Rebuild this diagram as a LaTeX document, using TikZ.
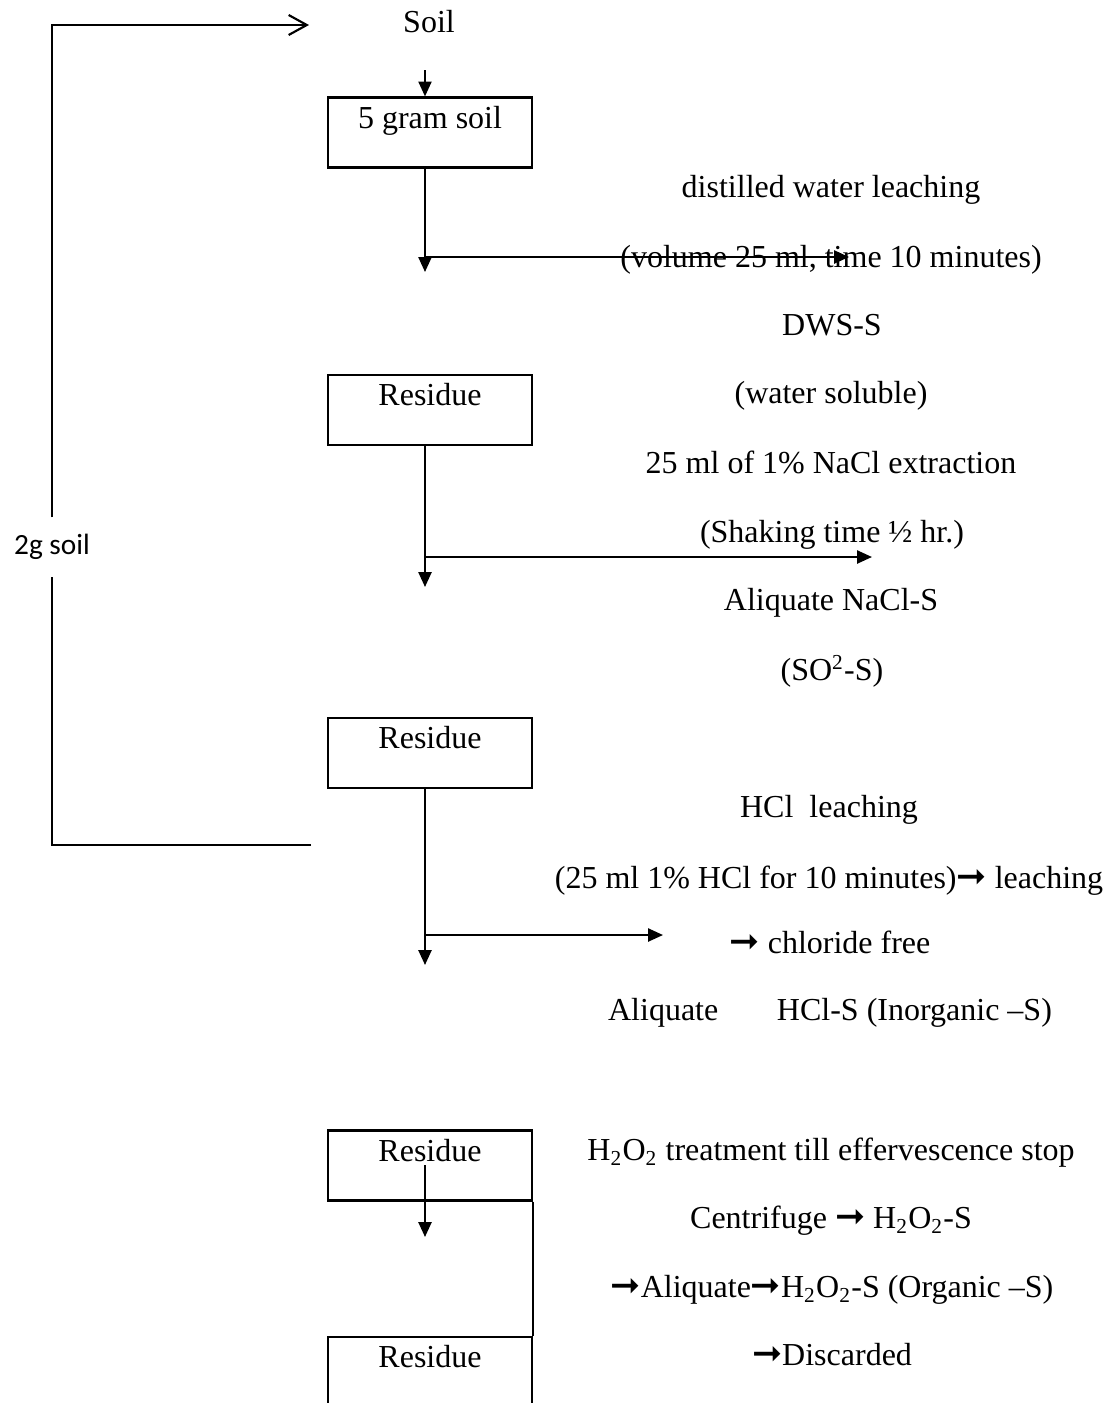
\documentclass[tikz,border=0pt]{standalone}
\usepackage{fontspec}
\setmainfont{Liberation Serif}
\newfontfamily\calibrifont{Carlito}
\newfontfamily\arrowfont{DejaVu Sans}
\usetikzlibrary{arrows.meta}

\newcommand{\steparrow}{{\arrowfont\fontsize{13.5}{14}\selectfont ➞}}

\tikzset{
  stagebox/.style={draw, line width=0.8pt, minimum width=76.5pt, inner sep=0pt,
    text height=11.5pt, text depth=14.75pt},
  steptext/.style={inner sep=0pt, text height=8pt, text depth=0pt},
  flow/.style={line width=0.8pt, -{Triangle[length=5.6pt,width=4.9pt]}},
  loopline/.style={line width=0.8pt},
}

\begin{document}
\begin{tikzpicture}[x=0.375pt, y=-0.375pt, font=\fontsize{12}{14.4}\selectfont]
\useasboundingbox (0,0) rectangle (1104,1403);
\clip (0,0) rectangle (1104,1403);

% left column: sample and residues
\node [steptext] (soil) at (429,22) {Soil};
\node [stagebox] (box1) at (430,132.5) {5 gram soil};
\node [stagebox] (box2) at (430,410) {Residue};
\node [stagebox] (box3) at (430,753) {Residue};
\node [stagebox] (box4) at (430,1165.5) {Residue};
\node [stagebox] (box5) at (430,1372) {Residue};
\node [inner sep=0pt, minimum height=21.75pt, font=\calibrifont\fontsize{11}{13}\selectfont] (twog) at (52,547) {2g soil};

% right column: treatments
\node [steptext] (dwl) at (831,187) {distilled water leaching};
\node [steptext] (vol) at (831,257) {(volume 25 ml, time 10 minutes)};
\node [steptext] (dws) at (832,325) {DWS-S};
\node [steptext] (wsol) at (831,393) {(water soluble)};
\node [steptext] (nacl) at (831,463) {25 ml of 1\%  NaCl extraction};
\node [steptext] (shake) at (832,532) {(Shaking time ½ hr.)};
\node [steptext] (aliq1) at (831,600) {Aliquate NaCl-S};
\node [steptext] (sulf) at (832,670) {(SO\textsuperscript{2}-S)};
\node [steptext] (hcl) at (829,807) {HCl\ \ leaching};
\node [steptext] (hcldo) at (829,878) {(25 ml 1\% HCl for 10 minutes)\steparrow\ leaching};
\node [steptext] (clfree) at (830,943) {\steparrow\ chloride free};
\node [steptext] (aliq2) at (830,1010) {Aliquate\hspace{22pt}HCl-S (Inorganic –S)};
\node [steptext] (perox) at (831,1150) {H\textsubscript{2}O\textsubscript{2} treatment till effervescence stop};
\node [steptext] (cent) at (831,1218) {Centrifuge \steparrow\ H\textsubscript{2}O\textsubscript{2}-S};
\node [steptext] (aliq3) at (832,1287) {\steparrow Aliquate\steparrow H\textsubscript{2}O\textsubscript{2}-S (Organic –S)};
\node [steptext] (disc) at (832,1355) {\steparrow Discarded};

% arrow ends
\coordinate (d0) at (425,70);
\coordinate (d1) at (425,272);
\coordinate (r1) at (849,257);
\coordinate (d2) at (425,587);
\coordinate (r2) at (872,557);
\coordinate (d3) at (425,965);
\coordinate (r3) at (663,935);
\coordinate (d4) at (425,1165);
\coordinate (d5) at (425,1237);
\coordinate (back) at (311,845);
\coordinate (soilin) at (309,25);

\draw [flow] (d0) -- (d0 |- box1.north);
\draw [flow] (box1.south -| d1) -- (d1);
\draw [flow] (d1 |- r1) -- (r1);
\draw [flow] (box2.south -| d2) -- (d2);
\draw [flow] (d2 |- r2) -- (r2);
\draw [flow] (box3.south -| d3) -- (d3);
\draw [flow] (d3 |- r3) -- (r3);
\draw [flow] (d4) -- (d5);
\draw [loopline] (box4.south east) -- (box5.north east);

% 2 g soil taken back
\draw [loopline] (back) -| (twog.south);
\draw [loopline, -{Straight Barb[length=6.8pt,width=7.5pt]}] (twog.north) |- (soilin);
\end{tikzpicture}
\end{document}
